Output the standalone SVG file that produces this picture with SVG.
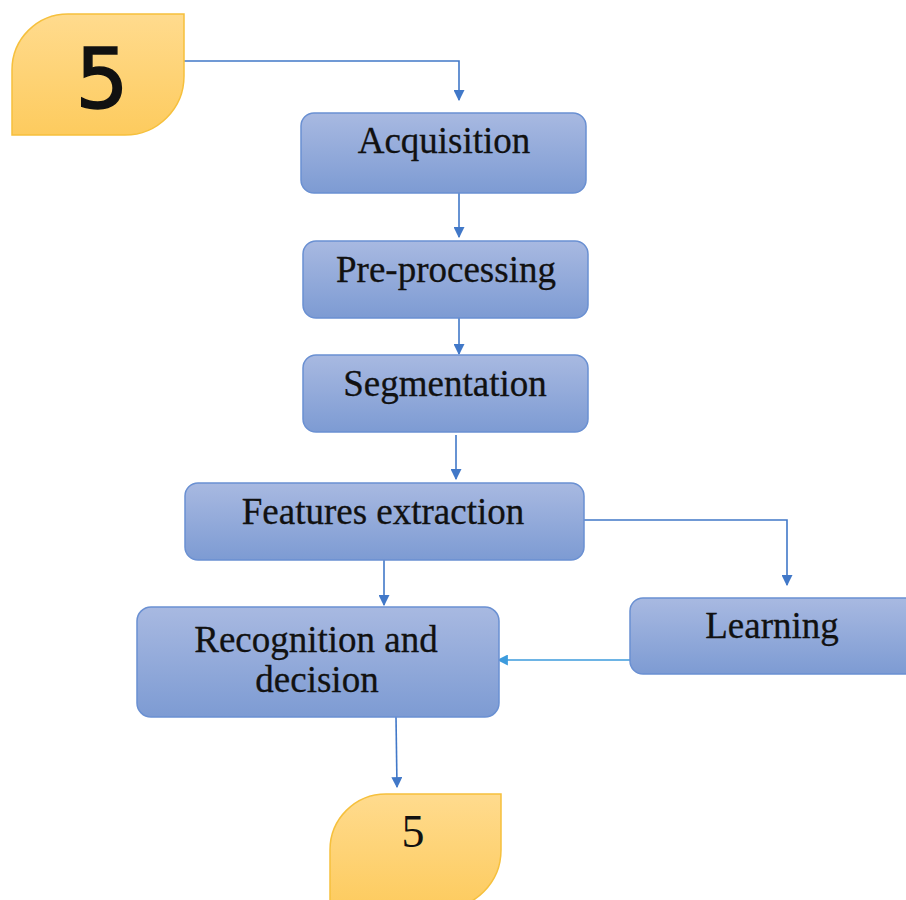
<svg xmlns="http://www.w3.org/2000/svg" width="906" height="900" viewBox="0 0 906 900">
  <defs>
    <linearGradient id="boxFill" x1="0" y1="0" x2="0" y2="1">
      <stop offset="0" stop-color="#A8B9E1"/>
      <stop offset="1" stop-color="#7D9BD3"/>
    </linearGradient>
    <linearGradient id="leafFill" x1="0" y1="0" x2="0" y2="1">
      <stop offset="0" stop-color="#FFDB8E"/>
      <stop offset="1" stop-color="#FDCB5E"/>
    </linearGradient>
    <marker id="arrow" viewBox="0 0 10 10" refX="9" refY="5" markerWidth="11" markerHeight="11" markerUnits="userSpaceOnUse" orient="auto">
      <path d="M0,0 L10,5 L0,10 z" fill="#4178C8"/>
    </marker>
    <marker id="arrowLight" viewBox="0 0 10 10" refX="9" refY="5" markerWidth="11" markerHeight="11" markerUnits="userSpaceOnUse" orient="auto">
      <path d="M0,0 L10,5 L0,10 z" fill="#3C9BDD"/>
    </marker>
  </defs>
  <style>
    .box { fill: url(#boxFill); stroke: #6A90D2; stroke-width: 1.5; }
    .leaf { fill: url(#leafFill); stroke: #F6C03C; stroke-width: 1.5; }
    .label { font-family: "Liberation Serif", "Times New Roman", serif; font-size: 37px; fill: #111; stroke: #111; stroke-width: 0.3; text-anchor: middle; }
    .conn { fill: none; stroke: #4178C8; stroke-width: 1.6; }
    .connLight { fill: none; stroke: #3C9BDD; stroke-width: 1.6; }
  </style>

  <rect width="906" height="900" fill="#FFFFFF"/>

  <!-- connectors -->
  <g id="connectors">
    <path class="conn" d="M178,61 H459 V100" marker-end="url(#arrow)"/>
    <path class="conn" d="M459,193 V237" marker-end="url(#arrow)"/>
    <path class="conn" d="M459,318 V354" marker-end="url(#arrow)"/>
    <path class="conn" d="M456,435 V479" marker-end="url(#arrow)"/>
    <path class="conn" d="M384,560 V605" marker-end="url(#arrow)"/>
    <path class="conn" d="M580,520 H787 V585" marker-end="url(#arrow)"/>
    <path class="connLight" d="M630,660 H498" marker-end="url(#arrowLight)"/>
    <path class="conn" d="M396,717 L397,787" marker-end="url(#arrow)"/>
  </g>

  <!-- start terminal -->
  <g id="start">
    <path class="leaf" d="M12,70 A56,56 0 0 1 68,14 H184 V76 A59,59 0 0 1 125,135 H12 Z"/>
    <text x="102" y="108" font-family="DejaVu Sans, sans-serif" font-size="84" fill="#111" stroke="#111" stroke-width="1.5" text-anchor="middle">5</text>
  </g>

  <g id="acquisition">
    <rect class="box" x="301" y="113" width="285" height="80" rx="13"/>
    <text class="label" x="444" y="153">Acquisition</text>
  </g>

  <g id="preprocessing">
    <rect class="box" x="303" y="241" width="285" height="77" rx="13"/>
    <text class="label" x="446" y="282">Pre-processing</text>
  </g>

  <g id="segmentation">
    <rect class="box" x="303" y="355" width="285" height="77" rx="13"/>
    <text class="label" x="445" y="396">Segmentation</text>
  </g>

  <g id="features">
    <rect class="box" x="185" y="483" width="399" height="77" rx="13"/>
    <text class="label" x="383" y="524">Features extraction</text>
  </g>

  <g id="recognition">
    <rect class="box" x="137" y="607" width="362" height="110" rx="14"/>
    <text class="label" x="316" y="652">Recognition and</text>
    <text class="label" x="317" y="692">decision</text>
  </g>

  <g id="learning">
    <rect class="box" x="630" y="598" width="290" height="76" rx="13"/>
    <text class="label" x="772" y="638">Learning</text>
  </g>

  <!-- end terminal -->
  <g id="end">
    <path class="leaf" d="M330,850 A56,56 0 0 1 386,794 H501 V850 A59,59 0 0 1 442,909 H330 Z"/>
    <text x="413" y="847" font-family="Liberation Serif, serif" font-size="46" fill="#111" text-anchor="middle">5</text>
  </g>
</svg>
